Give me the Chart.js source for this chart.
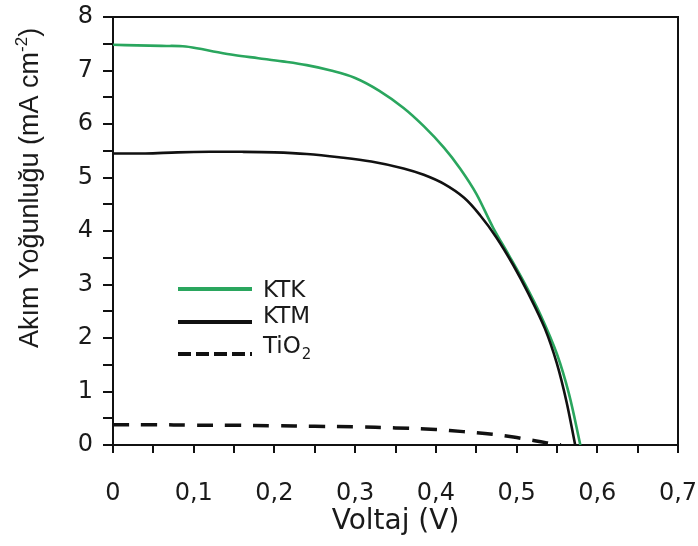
<!DOCTYPE html>
<html><head><meta charset="utf-8">
<script src="https://cdn.jsdelivr.net/npm/chart.js@4/dist/chart.umd.min.js"></script>
<style>html,body{margin:0;padding:0;background:#fff}#wrap{width:698px;height:546px}</style>
</head><body><div id="wrap"><canvas id="c" width="698" height="546"></canvas></div>
<script>
// ---- data ----
const ktkVoltage = [0, 0.03, 0.06, 0.09, 0.12, 0.15, 0.18, 0.21, 0.24, 0.27, 0.30, 0.33, 0.36, 0.385, 0.41, 0.43, 0.45, 0.471, 0.49, 0.51, 0.53, 0.55, 0.565, 0.579];
const ktkCurrent = [7.48, 7.47, 7.46, 7.45, 7.37, 7.29, 7.23, 7.17, 7.10, 7.00, 6.86, 6.62, 6.30, 5.96, 5.56, 5.17, 4.70, 4.06, 3.56, 3.02, 2.42, 1.70, 0.95, 0.0];
const ktmVoltage = [0, 0.04, 0.08, 0.12, 0.16, 0.2, 0.24, 0.28, 0.32, 0.36, 0.385, 0.41, 0.435, 0.455, 0.475, 0.496, 0.515, 0.535, 0.55, 0.562, 0.5726];
const ktmCurrent = [5.45, 5.45, 5.47, 5.48, 5.48, 5.47, 5.44, 5.38, 5.30, 5.17, 5.05, 4.88, 4.62, 4.29, 3.88, 3.36, 2.82, 2.18, 1.52, 0.80, 0.0];
const tioVoltage = [0, 0.05, 0.1, 0.15, 0.2, 0.25, 0.3, 0.35, 0.4, 0.434, 0.47, 0.496, 0.515, 0.53, 0.545, 0.555];
const tioCurrent = [0.38, 0.38, 0.37, 0.37, 0.36, 0.35, 0.34, 0.32, 0.29, 0.25, 0.20, 0.15, 0.10, 0.06, 0.02, 0.0];
const seriesNames = ['KTK', 'KTM', 'TiO2'];
const xTickValues = [0, 0.1, 0.2, 0.3, 0.4, 0.5, 0.6, 0.7];
const xTickLabels = ['0', '0,1', '0,2', '0,3', '0,4', '0,5', '0,6', '0,7'];
const yTickValues = [0, 1, 2, 3, 4, 5, 6, 7, 8];
const yTickLabels = ['0', '1', '2', '3', '4', '5', '6', '7', '8'];
const xTitle = 'Voltaj (V)';
const yTitleMain = 'Akım Yoğunluğu (mA cm';
const yTitleSup = '-2';
const yTitleEnd = ')';

const toPoints = (xs, ys) => xs.map((x, i) => ({x: x, y: ys[i]}));
const labelFor = (vals, labels) => (v) => {
  const i = vals.findIndex(t => Math.abs(t - v) < 1e-6);
  return i >= 0 ? labels[i] : '';
};

const GREEN = '#2aa65e';
const TICK_FONT = {family: 'DejaVu Sans', size: 24};

const framePlugin = {
  id: 'frame',
  afterDraw(chart) {
    const {ctx, chartArea: a} = chart;
    ctx.save();
    ctx.strokeStyle = '#111';
    ctx.lineWidth = 2;
    ctx.beginPath();
    ctx.moveTo(a.left, a.top);
    ctx.lineTo(a.right, a.top);
    ctx.lineTo(a.right, a.bottom);
    ctx.stroke();
    ctx.restore();
  }
};

const yTitlePlugin = {
  id: 'yTitle',
  afterDraw(chart) {
    const ctx = chart.ctx;
    const a = chart.chartArea;
    ctx.save();
    const mainFont = '27px "Liberation Sans", Arial, sans-serif';
    const supFont = '17px "Liberation Sans", Arial, sans-serif';
    ctx.font = mainFont;
    const w1 = ctx.measureText(yTitleMain).width;
    const w3 = ctx.measureText(yTitleEnd).width;
    ctx.font = supFont;
    const w2 = ctx.measureText(yTitleSup).width;
    const total = w1 + w2 + w3;
    ctx.translate(38, a.top + 171);
    ctx.rotate(-Math.PI / 2);
    ctx.fillStyle = '#1a1a1a';
    ctx.textBaseline = 'alphabetic';
    ctx.textAlign = 'left';
    let x = -total / 2;
    ctx.font = mainFont;
    ctx.fillText(yTitleMain, x, 0);
    x += w1;
    ctx.font = supFont;
    ctx.fillText(yTitleSup, x, -11);
    x += w2;
    ctx.font = mainFont;
    ctx.fillText(yTitleEnd, x, 0);
    ctx.restore();
  }
};

const legendPlugin = {
  id: 'customLegend',
  afterDatasetsDraw(chart) {
    const ctx = chart.ctx;
    const a = chart.chartArea;
    const rows = [
      {line: 272, text: 274, ds: 0, dash: []},
      {line: 305, text: 300, ds: 1, dash: []},
      {line: 337, text: 330, ds: 2, dash: [13, 5]}
    ];
    ctx.save();
    rows.forEach(r => {
      const ds = chart.data.datasets[r.ds];
      ctx.strokeStyle = ds.borderColor;
      ctx.lineWidth = 4;
      ctx.setLineDash(r.dash);
      ctx.beginPath();
      ctx.moveTo(a.left + 65, a.top + r.line);
      ctx.lineTo(a.left + 139, a.top + r.line);
      ctx.stroke();
      ctx.setLineDash([]);
      ctx.fillStyle = '#1a1a1a';
      ctx.textBaseline = 'middle';
      ctx.textAlign = 'left';
      const name = seriesNames[r.ds];
      const tx = a.left + 150, ty = a.top + r.text;
      if (name === 'TiO2') {
        ctx.font = '23px "DejaVu Sans", sans-serif';
        ctx.fillText('TiO', tx, ty);
        const w = ctx.measureText('TiO').width;
        ctx.font = '15px "DejaVu Sans", sans-serif';
        ctx.fillText('2', tx + w + 1, ty + 8);
      } else {
        ctx.font = '23px "DejaVu Sans", sans-serif';
        ctx.fillText(name, tx, ty);
      }
    });
    ctx.restore();
  }
};

new Chart(document.getElementById('c'), {
  type: 'line',
  data: {
    datasets: [
      {label: seriesNames[0], data: toPoints(ktkVoltage, ktkCurrent), borderColor: GREEN, borderWidth: 2.6, pointRadius: 0, tension: 0.35, order: 3},
      {label: seriesNames[1], data: toPoints(ktmVoltage, ktmCurrent), borderColor: '#111111', borderWidth: 2.6, pointRadius: 0, tension: 0.35, order: 2},
      {label: seriesNames[2], data: toPoints(tioVoltage, tioCurrent), borderColor: '#111111', borderWidth: 3.5, borderDash: [16, 12], pointRadius: 0, tension: 0.35, order: 1}
    ]
  },
  options: {
    responsive: false,
    animation: false,
    devicePixelRatio: 1,
    layout: {padding: {left: 0, top: 17, right: 20, bottom: 0}},
    plugins: {legend: {display: false}, tooltip: {enabled: false}},
    scales: {
      x: {
        type: 'linear', min: 0, max: 0.7,
        afterFit: (s) => { s.height = 101; s.paddingLeft = 0; s.paddingRight = 0; },
        ticks: {stepSize: 0.05, autoSkip: false, maxRotation: 0, padding: 26, color: '#1a1a1a', font: TICK_FONT,
          callback: labelFor(xTickValues, xTickLabels)},
        grid: {drawOnChartArea: false, drawTicks: true, tickLength: 8, color: '#111', lineWidth: 2},
        border: {display: true, color: '#111', width: 2},
        title: {display: true, text: xTitle, color: '#1a1a1a', font: {family: 'DejaVu Sans', size: 28}, padding: {top: 0, bottom: 7}}
      },
      y: {
        type: 'linear', min: 0, max: 8,
        afterFit: (s) => { s.width = 113; s.paddingTop = 0; s.paddingBottom = 0; },
        ticks: {stepSize: 0.5, autoSkip: false, padding: 10, color: '#1a1a1a', font: TICK_FONT,
          callback: labelFor(yTickValues, yTickLabels)},
        grid: {drawOnChartArea: false, drawTicks: true, tickLength: 10, color: '#111', lineWidth: 2},
        border: {display: true, color: '#111', width: 2}
      }
    }
  },
  plugins: [framePlugin, yTitlePlugin, legendPlugin]
});
</script>
</body></html>
